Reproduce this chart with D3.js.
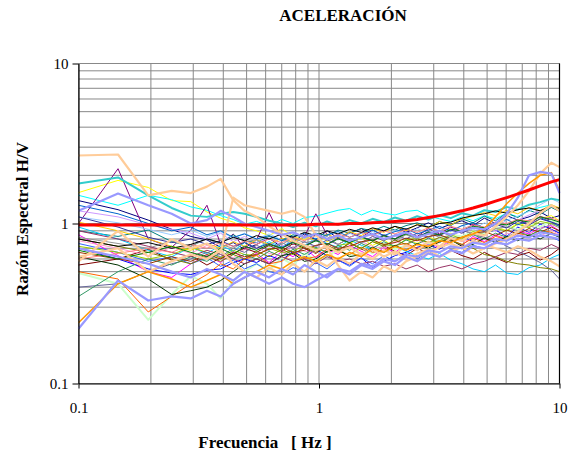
<!DOCTYPE html>
<html>
<head>
<meta charset="utf-8">
<script src="https://cdn.jsdelivr.net/npm/d3@7"></script>
<style>
  body { margin: 0; background: #fff; }
</style>
</head>
<body>
<div id="chart"></div>
<script>
// frequencies (Hz) shared by all records
const freq = [0.1, 0.146, 0.195, 0.244, 0.293, 0.342, 0.39, 0.44, 0.49,
    0.55, 0.62, 0.7, 0.78, 0.87, 0.97, 1.08, 1.2, 1.34, 1.5, 1.67, 1.86, 2.07, 2.3, 2.56,
    2.85, 3.17, 3.53, 3.93, 4.37, 4.87, 5.42, 6.03, 6.71, 7.47, 8.31, 9.25, 10];

// H/V ratio per record
const navy = [1.39,1.22,1.05,0.92,0.83,0.79,0.71,0.76,0.69, 0.74,0.81,0.71,0.77,0.86,0.79,0.9,0.81,0.87,0.93,0.85,0.9,0.96,0.88,0.94,1.01,0.93,0.99,1.04,0.97,1.08,1.0,1.12,1.05,1.1,1.18,1.08,1.12];
const magenta = [0.85,0.63,0.5,0.46,0.56,0.63,0.57,0.67,0.6, 0.65,0.57,0.67,0.62,0.71,0.61,0.69,0.64,0.73,0.67,0.62,0.71,0.66,0.74,0.68,0.77,0.7,0.79,0.73,0.83,0.77,0.85,0.79,0.9,0.86,0.94,0.97,0.9];
const yellow = [1.56,1.86,1.68,1.39,1.37,1.18,1.08,1.02,0.94, 0.9,0.84,0.93,0.83,0.79,0.87,0.77,0.83,0.75,0.81,0.73,0.79,0.71,0.8,0.75,0.83,0.77,0.87,0.82,0.9,0.85,0.96,0.9,1.01,0.95,1.07,1.12,1.04];
const cyan = [1.5,1.3,1.5,1.41,1.27,1.21,1.12,1.06,0.99, 1.03,0.97,1.06,1.0,1.09,1.11,1.16,1.21,1.24,1.13,1.21,1.16,1.13,1.19,1.21,1.11,1.07,1.03,1.1,1.04,1.12,1.07,1.16,1.1,1.21,1.26,1.31,1.22];
const purple = [1.0,2.2,0.8,0.71,0.91,1.3,0.74,0.86,0.7, 0.79,1.17,0.8,0.74,0.83,1.15,0.85,0.79,0.88,0.82,0.91,0.84,0.8,0.89,0.83,0.93,0.86,0.95,0.89,0.99,0.92,1.01,0.96,1.06,0.99,1.11,1.04,0.98];
const maroon = [0.55,0.6,0.69,0.59,0.63,0.55,0.61,0.65,0.7, 0.66,0.73,0.67,0.75,0.7,0.65,0.73,0.67,0.76,0.69,0.66,0.73,0.67,0.63,0.7,0.65,0.62,0.68,0.63,0.6,0.66,0.61,0.57,0.63,0.66,0.59,0.64,0.7];
const teal = [0.9,0.83,0.91,0.77,0.72,0.81,0.75,0.85,0.78, 0.76,0.83,0.79,0.85,0.82,0.87,0.84,0.91,0.87,0.93,0.9,0.96,0.91,0.97,1.01,0.95,1.03,0.97,1.07,1.01,1.11,1.04,1.16,1.09,1.21,1.14,1.26,1.19];
const blue = [0.7,0.6,0.52,0.49,0.48,0.51,0.52,0.57,0.6, 0.57,0.63,0.59,0.67,0.61,0.69,0.63,0.59,0.55,0.61,0.53,0.58,0.63,0.66,0.71,0.74,0.69,0.77,0.83,0.77,0.87,0.91,0.83,0.95,0.88,0.99,0.92,0.87];
const sky = [0.95,0.8,0.68,0.62,0.71,0.65,0.73,0.67,0.76, 0.7,0.77,0.71,0.79,0.73,0.81,0.75,0.71,0.79,0.73,0.69,0.66,0.72,0.67,0.63,0.6,0.65,0.59,0.56,0.52,0.5,0.55,0.49,0.48,0.53,0.55,0.61,0.64];
const lightGreen = [0.49,0.42,0.25,0.36,0.47,0.42,0.34,0.44,0.5, 0.56,0.51,0.61,0.55,0.65,0.59,0.62,0.69,0.63,0.71,0.65,0.75,0.69,0.73,0.81,0.75,0.79,0.85,0.83,0.89,0.87,0.93,0.97,0.91,1.01,0.95,1.05,0.99];
const lightBlue = [1.1,1.01,0.92,0.85,0.91,0.83,0.89,0.81,0.87, 0.8,0.86,0.79,0.75,0.83,0.77,0.85,0.79,0.87,0.81,0.89,0.83,0.91,0.85,0.93,0.87,0.95,0.89,0.97,0.91,1.01,0.95,1.05,1.11,1.19,1.31,1.43,1.35];
const pink = [0.78,0.7,0.63,0.71,0.65,0.73,0.67,0.61,0.69, 0.71,0.65,0.63,0.72,0.67,0.66,0.75,0.69,0.71,0.77,0.72,0.7,0.77,0.74,0.79,0.73,0.76,0.82,0.77,0.8,0.85,0.79,0.87,0.84,0.89,0.83,0.91,0.85];
const lilac = [1.2,1.1,0.98,0.92,0.87,0.8,0.87,0.77,0.83, 0.76,0.81,0.73,0.7,0.77,0.71,0.79,0.74,0.81,0.75,0.83,0.79,0.84,0.8,0.87,0.81,0.89,0.84,0.91,0.86,0.93,0.9,0.99,1.05,1.13,1.21,1.29,1.2];
const peachA = [2.66,2.7,1.5,1.6,1.55,1.7,1.9,1.4,1.2, 1.1,0.96,0.86,0.78,0.73,0.68,0.72,0.66,0.71,0.64,0.69,0.62,0.67,0.6,0.65,0.69,0.62,0.67,0.71,0.65,0.7,0.75,0.8,0.89,1.0,1.16,1.3,1.2];
const peachB = [0.62,0.7,0.5,0.58,0.64,0.6,0.68,0.56,0.5, 0.46,0.53,0.48,0.56,0.5,0.59,0.54,0.61,0.56,0.65,0.6,0.68,0.64,0.73,0.68,0.77,0.72,0.81,0.78,0.87,0.84,0.96,1.1,1.3,1.6,2.05,2.4,2.25];
const peachC = [0.58,0.9,0.62,0.8,0.7,0.75,0.66,1.45,1.3, 1.25,1.2,1.15,1.2,1.1,0.85,0.7,0.55,0.44,0.5,0.46,0.54,0.5,0.58,0.62,0.66,0.71,0.75,0.7,0.78,0.74,0.7,0.66,0.72,0.68,0.62,0.58,0.54];
const royal = [0.75,0.66,0.58,0.62,0.56,0.61,0.54,0.59,0.52, 0.56,0.5,0.48,0.53,0.5,0.57,0.52,0.59,0.54,0.61,0.56,0.63,0.58,0.65,0.6,0.67,0.62,0.69,0.66,0.73,0.7,0.77,0.74,0.81,0.78,0.85,0.82,0.78];
const tealB = [1.78,1.94,1.5,1.25,1.12,1.1,1.15,1.18,1.15, 1.1,1.04,1.0,0.95,1.01,0.96,1.03,0.98,1.05,1.0,1.07,1.02,1.09,1.04,1.11,1.06,1.13,1.08,1.16,1.12,1.21,1.18,1.27,1.22,1.31,1.36,1.43,1.4];
const yellowGreen = [0.72,0.66,0.6,0.64,0.71,0.66,0.61,0.68,0.64, 0.63,0.7,0.66,0.67,0.73,0.7,0.66,0.73,0.75,0.7,0.77,0.74,0.72,0.79,0.81,0.76,0.78,0.85,0.8,0.89,0.85,0.93,0.9,0.99,0.94,1.03,1.0,0.96];
const gold = [1.02,0.9,0.8,0.72,0.68,0.75,0.7,0.77,0.72, 0.79,0.74,0.81,0.76,0.83,0.78,0.86,0.8,0.89,0.84,0.93,0.88,0.96,0.9,0.99,0.94,1.03,0.98,1.07,1.11,1.17,1.12,1.21,1.15,1.26,1.2,1.31,1.25];
const orange = [0.24,0.42,0.5,0.45,0.4,0.44,0.48,0.42,0.46, 0.5,0.55,0.52,0.58,0.62,0.58,0.64,0.6,0.66,0.62,0.7,0.66,0.72,0.68,0.74,0.72,0.78,0.76,0.82,0.86,0.93,1.1,1.33,1.55,1.78,2.0,2.08,1.6];
const darkOrange = [0.5,0.45,0.28,0.35,0.42,0.48,0.56,0.52,0.6, 0.63,0.56,0.58,0.66,0.6,0.62,0.69,0.67,0.64,0.71,0.66,0.68,0.73,0.75,0.7,0.72,0.77,0.79,0.74,0.81,0.76,0.83,0.8,0.87,0.84,0.91,0.88,0.84];
const slate = [0.4,0.42,0.5,0.56,0.6,0.66,0.62,0.7,0.66, 0.73,0.68,0.76,0.7,0.77,0.72,0.79,0.74,0.81,0.76,0.83,0.78,0.85,0.8,0.87,0.82,0.89,0.84,0.91,0.86,0.82,0.79,0.72,0.67,0.62,0.57,0.51,0.45];
const gray = [0.82,0.75,0.7,0.78,0.72,0.8,0.74,0.7,0.77, 0.79,0.72,0.74,0.81,0.76,0.78,0.83,0.74,0.81,0.76,0.79,0.83,0.78,0.85,0.8,0.87,0.82,0.84,0.91,0.86,0.88,0.93,0.95,0.9,0.97,0.92,0.99,0.94];
const darkBlue = [1.3,1.15,1.0,0.9,0.95,0.85,0.9,0.82,0.86, 0.8,0.84,0.78,0.83,0.87,0.8,0.85,0.89,0.82,0.87,0.91,0.84,0.89,0.93,0.86,0.91,0.96,0.9,0.97,1.01,0.94,1.01,1.06,0.98,1.05,1.09,1.02,0.96];
const seaGreen = [0.35,0.5,0.6,0.55,0.62,0.58,0.66,0.6,0.64, 0.6,0.67,0.62,0.69,0.64,0.71,0.66,0.73,0.68,0.75,0.7,0.77,0.72,0.79,0.74,0.81,0.76,0.83,0.78,0.85,0.8,0.87,0.82,0.89,0.84,0.91,0.86,0.82];
const darkGreen = [0.62,0.55,0.45,0.36,0.38,0.4,0.44,0.5,0.56, 0.6,0.56,0.63,0.65,0.58,0.6,0.67,0.69,0.62,0.64,0.71,0.66,0.73,0.68,0.75,0.7,0.77,0.79,0.72,0.74,0.81,0.76,0.83,0.78,0.85,0.8,0.87,0.82];
const olive = [0.8,0.72,0.66,0.6,0.56,0.62,0.58,0.64,0.6, 0.67,0.62,0.69,0.64,0.71,0.66,0.73,0.68,0.75,0.7,0.77,0.72,0.79,0.74,0.8,0.76,0.82,0.78,0.74,0.7,0.64,0.62,0.58,0.56,0.55,0.53,0.52,0.5];
const brown = [0.66,0.6,0.56,0.62,0.58,0.64,0.6,0.66,0.62, 0.64,0.69,0.71,0.66,0.68,0.73,0.75,0.7,0.72,0.77,0.79,0.74,0.76,0.81,0.78,0.83,0.85,0.8,0.82,0.87,0.89,0.84,0.91,0.86,0.93,0.88,0.95,0.9];
const plum = [0.9,0.8,0.72,0.66,0.62,0.68,0.64,0.6,0.56, 0.6,0.56,0.62,0.58,0.6,0.56,0.62,0.58,0.6,0.56,0.58,0.54,0.56,0.52,0.55,0.5,0.53,0.55,0.52,0.56,0.58,0.62,0.66,0.64,0.7,0.68,0.74,0.7];
const indigo = [1.1,0.95,0.82,0.76,0.8,0.74,0.78,0.72,0.76, 0.7,0.75,0.7,0.77,0.72,0.79,0.74,0.81,0.76,0.83,0.78,0.85,0.8,0.87,0.82,0.89,0.84,0.91,0.87,0.95,0.9,0.99,0.94,1.03,0.98,1.07,1.02,0.98];
const lavenderA = [0.22,0.44,0.33,0.35,0.34,0.38,0.35,0.42,0.46, 0.5,0.46,0.52,0.48,0.55,0.5,0.46,0.52,0.48,0.55,0.52,0.58,0.55,0.62,0.58,0.65,0.62,0.68,0.65,0.72,0.7,0.76,0.74,0.8,0.78,0.84,0.82,0.8];
const lavenderB = [1.2,1.54,1.3,1.15,1.0,1.05,1.2,1.1,1.0, 0.95,0.9,0.85,0.88,0.82,0.86,0.8,0.84,0.78,0.82,0.86,0.8,0.84,0.88,0.82,0.86,0.9,0.85,0.9,0.94,0.92,1.0,1.15,1.45,2.0,2.1,2.05,1.55];
const lavenderC = [0.7,0.62,0.56,0.5,0.46,0.52,0.48,0.44,0.5, 0.46,0.42,0.46,0.42,0.4,0.44,0.48,0.52,0.5,0.56,0.54,0.6,0.58,0.64,0.62,0.68,0.66,0.72,0.7,0.76,0.74,0.8,0.78,0.84,0.82,0.88,0.86,0.84];
const salmon = [0.6,0.65,0.7,0.66,0.74,0.7,0.76,0.72,0.78, 0.74,0.8,0.76,0.82,0.78,0.84,0.8,0.86,0.82,0.88,0.84,0.9,0.86,0.92,0.88,0.94,0.9,0.96,0.92,0.98,0.95,1.02,1.0,1.06,1.04,1.1,1.08,1.04];
const black = [0.8,0.72,0.76,0.7,0.74,0.8,0.76,0.82,0.78, 0.84,0.8,0.86,0.82,0.88,0.84,0.9,0.86,0.92,0.88,0.94,0.9,0.96,0.92,0.98,0.95,1.0,1.02,1.08,1.12,1.15,1.2,1.16,1.22,1.25,1.2,1.28,1.24];
const green = [0.68,0.6,0.66,0.72,0.66,0.62,0.7,0.64,0.72, 0.68,0.74,0.7,0.76,0.72,0.78,0.74,0.8,0.76,0.82,0.78,0.84,0.8,0.86,0.82,0.88,0.85,0.92,0.9,0.96,0.94,1.0,0.98,1.05,1.02,1.1,1.06,1.02];
// mean curve
const mean = [0.98,0.98,0.98,0.98,0.98,0.98,0.98,0.98,0.98, 0.98,0.98,0.98,0.98,0.98,0.99,0.99,0.99,1.0,1.0,1.01,1.02,1.03,1.04,1.06,1.09,1.12,1.16,1.2,1.25,1.31,1.38,1.45,1.53,1.62,1.72,1.82,1.88];

const records = [navy, magenta, yellow, cyan, purple, maroon, teal, blue, sky, lightGreen,
    lightBlue, pink, lilac, royal, tealB, yellowGreen, gold, darkOrange, slate, gray,
    darkBlue, seaGreen, darkGreen, olive, brown, plum, indigo, salmon, black, green,
    peachA, peachB, peachC, orange, lavenderA, lavenderB, lavenderC, mean];
const recordColors = ["#000080", "#FF00FF", "#FFFF00", "#00FFFF", "#800080", "#800000", "#008080", "#0000FF", "#00CCFF", "#CCFFCC",
    "#99CCFF", "#FF99CC", "#CC99FF", "#3366FF", "#33CCCC", "#99CC00", "#FFCC00", "#FF6600", "#666699", "#969696",
    "#0066CC", "#339966", "#003300", "#808000", "#993300", "#993366", "#333399", "#FF8080", "#000000", "#008000",
    "#FFCC99", "#FFCC99", "#FFCC99", "#FF9900", "#9999FF", "#9999FF", "#9999FF", "#FF0000"];
const recordWidths = [1, 1, 1, 1, 1, 1, 1, 1, 1, 2,
    1, 1, 1, 1, 2, 1, 1, 1, 1, 1,
    1, 1, 1, 1, 1, 1, 1, 1, 1, 1,
    2.2, 2.2, 2.2, 1.5, 2.2, 2.2, 2.2, 3];

const yTicks = [0.1, 1, 10];
const xTicks = [0.1, 1, 10];

const FONT = "Liberation Serif";

const W = 568, H = 455;
const margin = {top: 63.5, right: 8.5, bottom: 71.5, left: 78.5},
    width = W - margin.left - margin.right,
    height = H - margin.top - margin.bottom;

const svg = d3.select("#chart")
    .append("svg")
    .attr("width", W)
    .attr("height", H);

const g = svg.append("g")
    .attr("transform", `translate(${margin.left},${margin.top})`);

const x = d3.scaleLog().domain([0.1, 10]).range([0, width]);
const y = d3.scaleLog().domain([0.1, 10]).range([height, 0]);

// log grid (every 1..9 of each decade)
const gridVals = [];
[0.1, 1].forEach(dec => { for (let k = 1; k <= 10; k++) gridVals.push(+(dec * k).toFixed(2)); });
const grid = Array.from(new Set(gridVals));

g.append("g").selectAll("line.vg")
    .data(grid)
    .enter().append("line")
    .attr("x1", d => x(d)).attr("x2", d => x(d))
    .attr("y1", 0).attr("y2", height)
    .attr("stroke", "#888").attr("stroke-width", 1);

g.append("g").selectAll("line.hg")
    .data(grid)
    .enter().append("line")
    .attr("y1", d => y(d)).attr("y2", d => y(d))
    .attr("x1", 0).attr("x2", width)
    .attr("stroke", "#888").attr("stroke-width", 1);

// records
const line = d3.line()
    .x((d, i) => x(freq[i]))
    .y(d => y(d));

g.append("g").selectAll("path.rec")
    .data(records)
    .enter().append("path")
    .attr("class", "rec")
    .attr("fill", "none")
    .attr("stroke", (d, i) => recordColors[i])
    .attr("stroke-width", (d, i) => recordWidths[i])
    .attr("stroke-linejoin", "round")
    .attr("d", line);

// axes
const yAxis = g.append("g")
    .call(d3.axisLeft(y).tickValues(yTicks).tickFormat(d3.format("")).tickSize(6).tickSizeOuter(0).tickPadding(4));
const xAxis = g.append("g")
    .attr("transform", `translate(0,${height})`)
    .call(d3.axisBottom(x).tickValues(xTicks).tickFormat(d3.format("")).tickSize(5).tickSizeOuter(0).tickPadding(14));

[yAxis, xAxis].forEach(a => {
    a.attr("font-family", FONT).attr("font-size", 15);
    a.selectAll("text").attr("fill", "#000");
    a.select(".domain").attr("stroke", "#000").attr("stroke-width", 1.2);
    a.selectAll(".tick line").attr("stroke", "#000");
});

g.append("line")
    .attr("x1", width).attr("x2", width)
    .attr("y1", 0).attr("y2", height)
    .attr("stroke", "#000").attr("stroke-width", 1.2);

// titles
svg.append("text")
    .attr("x", 343).attr("y", 21)
    .attr("text-anchor", "middle")
    .attr("font-family", FONT).attr("font-weight", "bold").attr("font-size", 17)
    .text("ACELERACIÓN");

svg.append("text")
    .attr("x", 265).attr("y", 448)
    .attr("text-anchor", "middle")
    .attr("xml:space", "preserve")
    .attr("font-family", FONT).attr("font-weight", "bold").attr("font-size", 17)
    .style("white-space", "pre")
    .text("Frecuencia   [ Hz ]");

svg.append("text")
    .attr("transform", "translate(28,219) rotate(-90)")
    .attr("text-anchor", "middle")
    .attr("font-family", FONT).attr("font-weight", "bold").attr("font-size", 17)
    .text("Razón Espectral H/V");
</script>
</body>
</html>
